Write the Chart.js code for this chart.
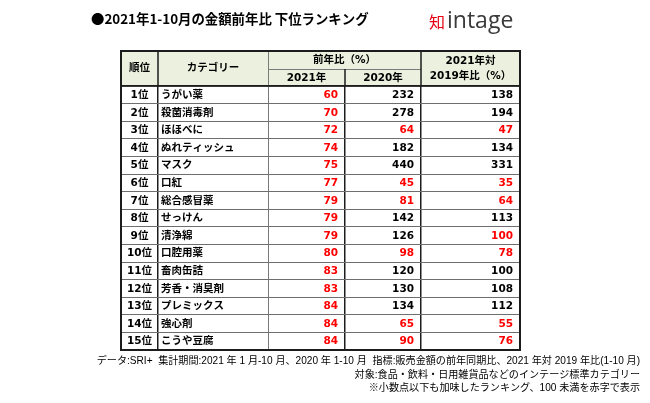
<!DOCTYPE html>
<html>
<head>
<meta charset="utf-8">
<script src="https://cdn.jsdelivr.net/npm/chart.js@4/dist/chart.umd.min.js"></script>
<style>
  html, body { margin: 0; padding: 0; background: #fff; }
  #wrap { width: 650px; height: 403px; }
</style>
</head>
<body>
<div id="wrap"><canvas id="rankChart" width="650" height="403"></canvas></div>
<script>
/* ---- Data ---- */
const ranks = ["1位","2位","3位","4位","5位","6位","7位","8位","9位","10位","11位","12位","13位","14位","15位"];
const categories = ["うがい薬","殺菌消毒剤","ほほべに","ぬれティッシュ","マスク","口紅","総合感冒薬","せっけん","清浄綿","口腔用薬","畜肉缶詰","芳香・消臭剤","プレミックス","強心剤","こうや豆腐"];
const yoy2021 = [60, 70, 72, 74, 75, 77, 79, 79, 79, 80, 83, 83, 84, 84, 84];
const yoy2020 = [232, 278, 64, 182, 440, 45, 81, 142, 126, 98, 120, 130, 134, 65, 90];
const vs2019 = [138, 194, 47, 134, 331, 35, 64, 113, 100, 78, 100, 108, 112, 55, 76];
// shown as 100 but below 100 before rounding (drawn red in the source)
const roundedUpTo100 = ["清浄綿"];

const titleText = "●2021年1-10月の金額前年比 下位ランキング";
const footNotes = [
  "データ:SRI+  集計期間:2021 年 1 月-10 月、2020 年 1-10 月  指標:販売金額の前年同期比、2021 年対 2019 年比(1-10 月)",
  "対象:食品・飲料・日用雑貨品などのインテージ標準カテゴリー",
  "※小数点以下も加味したランキング、100 未満を赤字で表示"
];

/* ---- Layout (table columns in px along the x scale) ---- */
const COL_EDGES = [0, 37, 147, 224, 300, 399];
const HEADER_H = 35;
const RED = "#ff0000";
const DARK = "#1c1c1c";
const THIN = "#7a7a7a";
const HEAD_BG = "#ebf1de";
const CELL_FONT = 'bold 10.5px "DejaVu Sans", "Noto Sans CJK JP"';

function colPx(scale, i){ return scale.getPixelForValue(COL_EDGES[i]); }

/* ---- Drawing plugin: header, cell text, frame, title, notes ---- */
const tablePlugin = {
  id: "tableText",
  beforeDraw(chart){
    const { ctx, chartArea: a, scales: { x } } = chart;
    const top = a.top - HEADER_H;
    ctx.save();
    ctx.fillStyle = HEAD_BG;
    ctx.fillRect(colPx(x, 0), top, colPx(x, 5) - colPx(x, 0), HEADER_H);
    ctx.restore();
  },
  afterDraw(chart){
    const { ctx, chartArea: a, scales: { x, y } } = chart;
    const top = a.top - HEADER_H;
    const mid = top + 18;
    const e = i => colPx(x, i);

    ctx.save();
    /* header lines */
    ctx.strokeStyle = THIN; ctx.lineWidth = 1;
    ctx.beginPath();
    ctx.moveTo(e(2), mid + 0.5); ctx.lineTo(e(4), mid + 0.5);
    ctx.moveTo(e(2) + 0.5, top); ctx.lineTo(e(2) + 0.5, a.top);
    ctx.stroke();
    ctx.strokeStyle = DARK; ctx.lineWidth = 1.5;
    ctx.beginPath();
    ctx.moveTo(e(1), top); ctx.lineTo(e(1), a.top);
    ctx.moveTo(e(3), mid); ctx.lineTo(e(3), a.top);
    ctx.moveTo(e(4), top); ctx.lineTo(e(4), a.top);
    ctx.moveTo(e(0), a.top); ctx.lineTo(e(5), a.top);
    ctx.stroke();
    /* outer frame */
    ctx.lineWidth = 2;
    ctx.strokeRect(e(0), top, e(5) - e(0), a.bottom - top);

    /* header text */
    ctx.fillStyle = "#000";
    ctx.font = CELL_FONT;
    ctx.textAlign = "center";
    ctx.textBaseline = "middle";
    const hc = top + HEADER_H / 2;
    ctx.fillText("順位", (e(0) + e(1)) / 2, hc);
    ctx.fillText("カテゴリー", (e(1) + e(2)) / 2, hc);
    ctx.fillText("前年比（%）", (e(2) + e(4)) / 2, top + 9.5);
    ctx.fillText("2021年", (e(2) + e(3)) / 2, mid + 9);
    ctx.fillText("2020年", (e(3) + e(4)) / 2, mid + 9);
    ctx.fillText("2021年対", (e(4) + e(5)) / 2, top + 10.5);
    ctx.fillText("2019年比（%）", (e(4) + e(5)) / 2, top + 25.5);

    /* body text */
    ranks.forEach((r, i) => {
      const py = y.getPixelForValue(i) + 0.5;
      ctx.fillStyle = "#000";
      ctx.textAlign = "center";
      ctx.fillText(r, (e(0) + e(1)) / 2, py);
      ctx.textAlign = "left";
      ctx.fillText(categories[i], e(1) + 3, py);
    });
    chart.data.datasets.forEach((ds, di) => {
      const meta = chart.getDatasetMeta(di);
      meta.data.forEach((pt, i) => {
        const v = ds.data[i].v;
        const red = v < 100 || (di === 2 && roundedUpTo100.includes(categories[i]));
        ctx.fillStyle = red ? RED : "#000";
        ctx.textAlign = "right";
        ctx.fillText(String(v), pt.x, pt.y + 0.5);
      });
    });

    /* title */
    ctx.textAlign = "left";
    ctx.fillStyle = "#000";
    ctx.font = 'bold 13.4px "Noto Sans CJK JP"';
    ctx.fillText(titleText, 91, 19);

    /* logo */
    ctx.textBaseline = "alphabetic";
    ctx.fillStyle = "#e60012";
    ctx.font = '16px "Noto Sans CJK JP"';
    ctx.fillText("知", 429, 28);
    ctx.fillStyle = "#3a3a3a";
    ctx.font = '23px "Open Sans"';
    ctx.fillText("intage", 447, 28);

    /* notes */
    ctx.textBaseline = "middle";
    ctx.fillStyle = "#000";
    ctx.textAlign = "right";
    ctx.font = '10.1px "Liberation Sans", "Noto Sans CJK JP"';
    footNotes.forEach((t, i) => ctx.fillText(t, 640, 361 + i * 13.8));
    ctx.restore();
  }
};

/* ---- Chart ---- */
function cellSeries(values, anchor){
  return values.map((v, i) => ({ x: anchor, y: i, v }));
}

function renderTable(){
  const canvas = document.getElementById("rankChart");
  new Chart(canvas, {
    type: "line",
    data: {
      labels: ranks,
      datasets: [
        { label: "2021年", data: cellSeries(yoy2021, COL_EDGES[3] - 7) },
        { label: "2020年", data: cellSeries(yoy2020, COL_EDGES[4] - 7) },
        { label: "2021年対2019年比", data: cellSeries(vs2019, COL_EDGES[5] - 7) }
      ].map(ds => ({ ...ds, showLine: false, pointRadius: 0, pointHoverRadius: 0 }))
    },
    options: {
      responsive: false,
      animation: false,
      events: [],
      layout: { padding: { left: 121, right: 130, top: 86, bottom: 53 } },
      plugins: { legend: { display: false }, tooltip: { enabled: false } },
      scales: {
        x: {
          type: "linear",
          min: COL_EDGES[0],
          max: COL_EDGES[COL_EDGES.length - 1],
          afterBuildTicks: s => { s.ticks = COL_EDGES.map(value => ({ value })); },
          ticks: { display: false },
          border: { display: false },
          grid: {
            drawTicks: false,
            color: c => (c.index === 2 ? THIN : DARK),
            lineWidth: c => (c.index === 0 || c.index === 5 ? 2 : c.index === 2 ? 1 : 1.5)
          }
        },
        y: {
          type: "category",
          offset: true,
          ticks: { display: false },
          border: { display: false },
          grid: {
            offset: true,
            drawTicks: false,
            color: c => (c.index === undefined || c.index === 0 ? DARK : "#6e6e6e"),
            lineWidth: c => (c.index === undefined ? 2 : c.index === 0 ? 1.5 : 1)
          }
        }
      }
    },
    plugins: [tablePlugin]
  });
}

document.addEventListener("DOMContentLoaded", renderTable);
</script>
</body>
</html>
